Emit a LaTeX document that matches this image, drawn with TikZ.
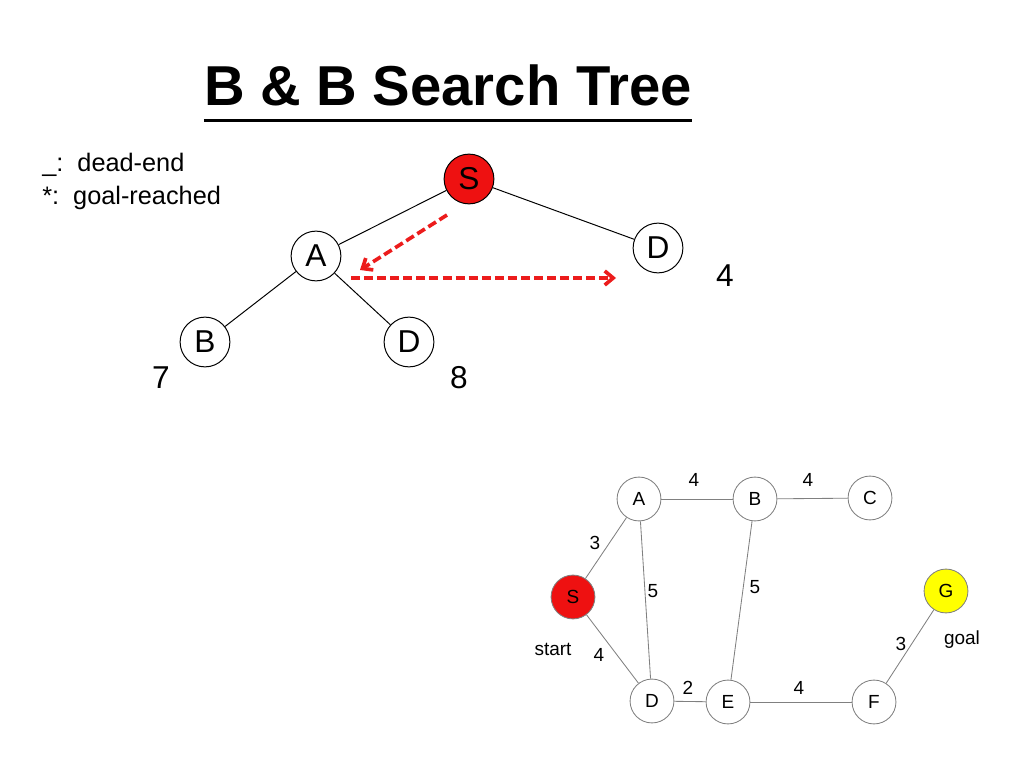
\documentclass[tikz,border=0pt]{standalone}
\usepackage{fontspec}
\usepackage{xcolor}
\setmainfont{Liberation Sans}
\usetikzlibrary{arrows.meta}
\definecolor{nodered}{RGB}{238,17,17}
\definecolor{trailred}{RGB}{236,28,28}
\definecolor{edgegray}{RGB}{128,128,128}
\definecolor{goalyellow}{RGB}{255,255,0}

\begin{document}
\begin{tikzpicture}[x=0.025cm, y=-0.025cm,
    treenode/.style={circle, draw, line width=0.7pt, minimum size=35.4pt, inner sep=0pt, font=\fontsize{22.5}{26}\selectfont},
    treeedge/.style={line width=0.7pt},
    cost/.style={font=\fontsize{22.5}{26}\selectfont},
    trail/.style={draw=trailred, line width=2.6pt, dash pattern=on 6.4pt off 2.9pt, -{Straight Barb[length=6pt,width=10pt]}},
    gnode/.style={circle, draw=edgegray, line width=0.6pt, minimum size=31.2pt, inner sep=0pt, font=\fontsize{13.5}{15}\selectfont},
    gedge/.style={draw=edgegray, line width=0.6pt},
    weight/.style={font=\fontsize{13.5}{15}\selectfont}]
    \useasboundingbox (0,0) rectangle (1024,768);

    % title and legend
    \node[font=\fontsize{40}{48}\selectfont\bfseries, inner sep=0pt, anchor=base] (title) at (448,106) {B \& B Search Tree};
    \draw[line width=2.1pt] ([yshift=-10.6pt]title.base west) -- ([yshift=-10.6pt]title.base east);
    \node[anchor=base west, align=left, inner sep=0pt, font=\fontsize{18}{23}\selectfont] (legend) at (42,204) {\_:\ \ dead-end\\{*}:\ \ goal-reached};

    % search tree
    \node[treenode, fill=nodered] (s) at (469,179) {S};
    \node[treenode] (a) at (316,256) {A};
    \node[treenode] (d) at (658,248) {D};
    \node[treenode] (b) at (205,342) {B};
    \node[treenode] (ad) at (409,342) {D};
    \draw[treeedge] (s) -- (a);
    \draw[treeedge] (s) -- (d);
    \draw[treeedge] (a) -- (b);
    \draw[treeedge] (a) -- (ad);
    \node[cost] (costb) at (161,378) {7};
    \node[cost] (costad) at (459,378) {8};
    \node[cost] (costd) at (725,276) {4};

    \coordinate (t1) at (447,215);
    \coordinate (t2) at (360,270);
    \coordinate (t3) at (351,278);
    \coordinate (t4) at (616,278);
    \draw[trail] (t1) -- (t2);
    \draw[trail] (t3) -- (t4);

    % graph
    \node[gnode, fill=nodered] (gs) at (573,597) {S};
    \node[gnode] (ga) at (639,499) {A};
    \node[gnode] (gb) at (755,499) {B};
    \node[gnode] (gc) at (870,498) {C};
    \node[gnode, fill=goalyellow] (gg) at (946,591) {G};
    \node[gnode] (gd) at (652,701) {D};
    \node[gnode] (ge) at (728,702) {E};
    \node[gnode] (gf) at (874,702) {F};
    \draw[gedge] (gs) -- (ga);
    \draw[gedge] (gs) -- (gd);
    \draw[gedge] (ga) -- (gd);
    \draw[gedge] (ga) -- (gb);
    \draw[gedge] (gb) -- (gc);
    \draw[gedge] (gb) -- (ge);
    \draw[gedge] (gd) -- (ge);
    \draw[gedge] (ge) -- (gf);
    \draw[gedge] (gf) -- (gg);
    \node[weight] (wab) at (694,480) {4};
    \node[weight] (wbc) at (808,480) {4};
    \node[weight] (wsa) at (595,543) {3};
    \node[weight] (wad) at (653,591) {5};
    \node[weight] (wbe) at (755,587) {5};
    \node[weight] (wsd) at (599,655) {4};
    \node[weight] (wde) at (688,688) {2};
    \node[weight] (wef) at (799,688) {4};
    \node[weight] (wfg) at (901,644) {3};
    \node[weight] (start) at (553,649) {start};
    \node[weight] (goal) at (962,640) {goal};
\end{tikzpicture}
\end{document}
